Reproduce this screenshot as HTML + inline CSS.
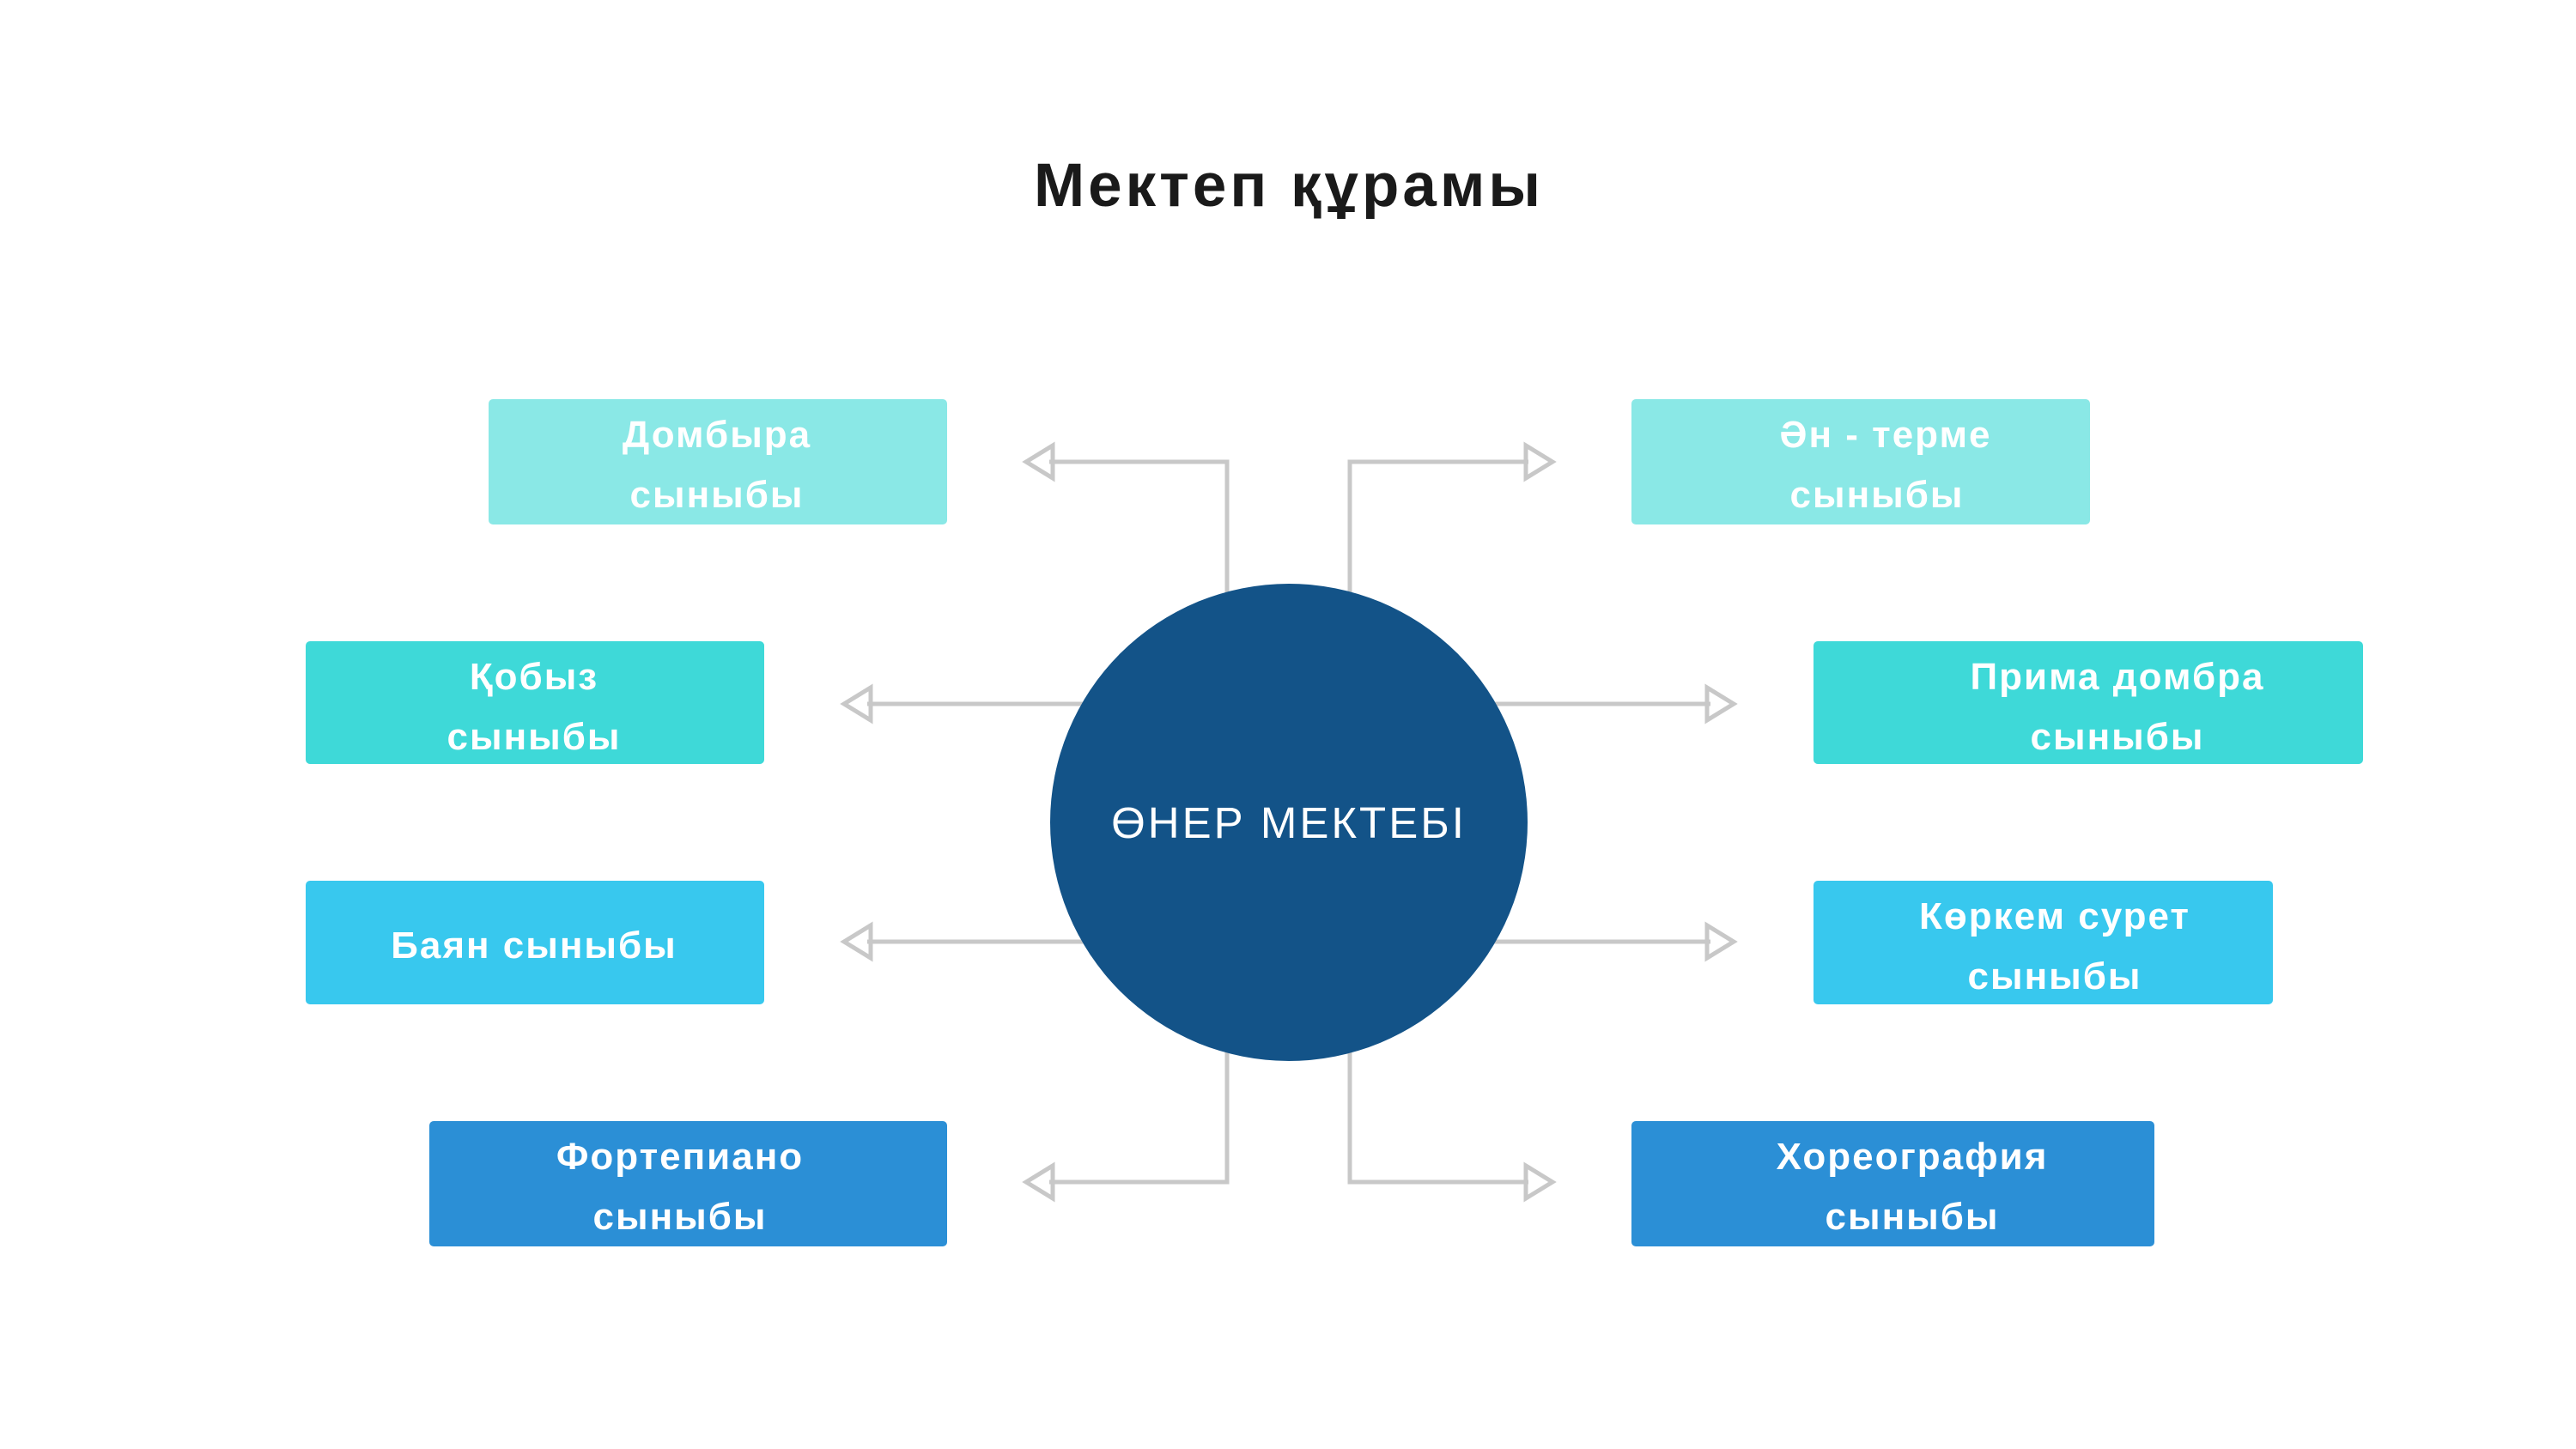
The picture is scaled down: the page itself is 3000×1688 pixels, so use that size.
<!DOCTYPE html>
<html><head><meta charset="utf-8"><style>
html,body{margin:0;padding:0;background:#fff}
svg{display:block}
text{font-family:"Liberation Sans","DejaVu Sans",sans-serif}
.l{font-weight:bold;font-size:44px;fill:#fff;letter-spacing:2px;text-anchor:middle}
</style></head><body>
<svg width="3000" height="1688" viewBox="0 0 3000 1688" xmlns="http://www.w3.org/2000/svg">
<rect width="3000" height="1688" fill="#fff"/>
<text x="1501" y="240" text-anchor="middle" font-size="71" font-weight="bold" fill="#1a1a1a" letter-spacing="4">Мектеп құрамы</text>
<g fill="none" stroke="#c8c8c8" stroke-width="5">
<polyline points="1429,690 1429,538 1222,538"/>
<polygon points="1195,538 1226,519 1226,557"/>
<polyline points="1572,690 1572,538 1780,538"/>
<polygon points="1808,538 1777,519 1777,557"/>
<line x1="1270" y1="820" x2="1010" y2="820"/>
<polygon points="983,820 1014,801 1014,839"/>
<line x1="1730" y1="820" x2="1992" y2="820"/>
<polygon points="2019,820 1988,801 1988,839"/>
<line x1="1270" y1="1097" x2="1010" y2="1097"/>
<polygon points="983,1097 1014,1078 1014,1116"/>
<line x1="1730" y1="1097" x2="1992" y2="1097"/>
<polygon points="2019,1097 1988,1078 1988,1116"/>
<polyline points="1429,1220 1429,1377 1222,1377"/>
<polygon points="1195,1377 1226,1358 1226,1396"/>
<polyline points="1572,1220 1572,1377 1780,1377"/>
<polygon points="1808,1377 1777,1358 1777,1396"/>
</g>
<circle cx="1501" cy="958" r="278" fill="#135388"/>
<text x="1501" y="976" text-anchor="middle" font-size="51" fill="#fff" letter-spacing="3">ӨНЕР МЕКТЕБІ</text>
<rect x="569" y="465" width="534" height="146" rx="5" fill="#8ae8e6"/>
<rect x="356" y="747" width="534" height="143" rx="5" fill="#3ed9d8"/>
<rect x="356" y="1026" width="534" height="144" rx="5" fill="#38c8ee"/>
<rect x="500" y="1306" width="603" height="146" rx="5" fill="#2b8fd6"/>
<rect x="1900" y="465" width="534" height="146" rx="5" fill="#8ae8e6"/>
<rect x="2112" y="747" width="640" height="143" rx="5" fill="#3ed9d8"/>
<rect x="2112" y="1026" width="535" height="144" rx="5" fill="#38c8ee"/>
<rect x="1900" y="1306" width="609" height="146" rx="5" fill="#2b8fd6"/>
<text class="l" x="835" y="521">Домбыра</text><text class="l" x="835" y="591">сыныбы</text>
<text class="l" x="622" y="803">Қобыз</text><text class="l" x="622" y="873">сыныбы</text>
<text class="l" x="622" y="1116">Баян сыныбы</text>
<text class="l" x="792" y="1362">Фортепиано</text><text class="l" x="792" y="1432">сыныбы</text>
<text class="l" x="2196" y="521">Ән - терме</text><text class="l" x="2186" y="591">сыныбы</text>
<text class="l" x="2466" y="803">Прима домбра</text><text class="l" x="2466" y="873">сыныбы</text>
<text class="l" x="2393" y="1082">Көркем сурет</text><text class="l" x="2393" y="1152">сыныбы</text>
<text class="l" x="2227" y="1362">Хореография</text><text class="l" x="2227" y="1432">сыныбы</text>
</svg>
</body></html>
